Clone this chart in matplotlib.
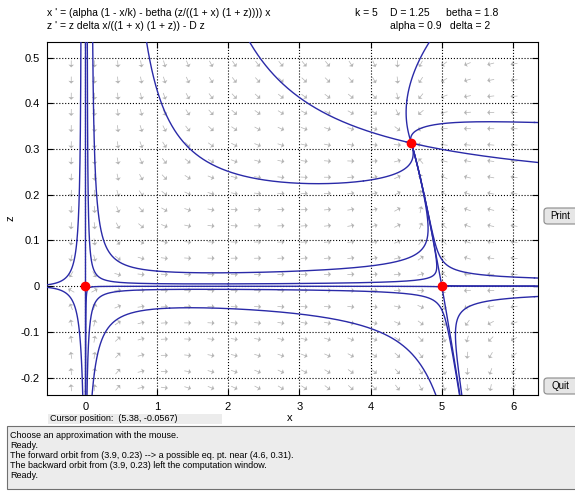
import numpy as np
import matplotlib
matplotlib.use("Agg")
import matplotlib.pyplot as plt
from matplotlib.patches import FancyBboxPatch, Rectangle

plt.rcParams['font.family'] = ['Liberation Sans', 'DejaVu Sans']

# parameters shown in the window
k = 5
D = 1.25
betha = 1.8
alpha = 0.9
delta = 2

# display window
x_lim = [-0.54, 6.35]
z_lim = [-0.238, 0.535]

# equilibrium points (red dots)
eq_x = [0.0, 5.0, 4.5723]
eq_z = [0.0, 0.0, 0.3129]

# starting points of the drawn orbits
orbit_x = [3.9, 4.50, 4.51, 6.3, 4.65, 1.0, 2.0, 2.0, 1.18, -0.12, -0.085,
           6.3, 6.3, 6.3, 5.0, 5.0, 0.0, 0.0]
orbit_z = [0.23, 0.3155, 0.406, 0.358, 0.3101, 0.033, 0.005, -0.007, -0.048, 0.1, -0.1,
           0.018, 0.0, -0.023, 0.004, -0.004, 0.5, -0.23]

# direction field grid
arrow_x = -0.2 + 0.327 * np.arange(20)
arrow_z = 0.486 - 0.0354 * np.arange(21)

xr = x_lim[1] - x_lim[0]
zr = z_lim[1] - z_lim[0]


def field(x, z):
    dx = (alpha * (1 - x / k) - betha * (z / ((1 + x) * (1 + z)))) * x
    dz = z * delta * x / ((1 + x) * (1 + z)) - D * z
    return dx, dz


def unit(x, z, sign):
    dx, dz = field(x, z)
    n = np.hypot(dx / xr, dz / zr)
    if n < 1e-9:
        return 0.0, 0.0, n
    return sign * dx / n, sign * dz / n, n


def orbit(x0, z0, sign, h=0.002, nmax=8000):
    xs, zs = [x0], [z0]
    x, z = x0, z0
    node = (eq_x[2], eq_z[2])
    for i in range(nmax):
        k1x, k1z, n = unit(x, z, sign)
        if n < 1e-6:
            break
        k2x, k2z, _ = unit(x + 0.5 * h * k1x, z + 0.5 * h * k1z, sign)
        k3x, k3z, _ = unit(x + 0.5 * h * k2x, z + 0.5 * h * k2z, sign)
        k4x, k4z, _ = unit(x + h * k3x, z + h * k3z, sign)
        x = x + h / 6 * (k1x + 2 * k2x + 2 * k3x + k4x)
        z = z + h / 6 * (k1z + 2 * k2z + 2 * k3z + k4z)
        xs.append(x)
        zs.append(z)
        if x < x_lim[0] - 0.05 or x > x_lim[1] + 0.05 or z < z_lim[0] - 0.01 or z > z_lim[1] + 0.01:
            break
        if np.hypot((x - node[0]) / xr, (z - node[1]) / zr) < 0.006:
            xs.append(node[0])
            zs.append(node[1])
            break
    return np.array(xs), np.array(zs)


fig = plt.figure(figsize=(5.75, 4.93), dpi=100)
ax = fig.add_axes([47 / 575, 1 - 395 / 493, (538 - 47) / 575, (395 - 41.5) / 493])

# direction field, arrows of equal screen length
ax_w = (538 - 47)
ax_h = (395 - 41.5)
AX, AZ = np.meshgrid(arrow_x, arrow_z)
U, V = field(AX, AZ)
su = U / xr * ax_w
sv = V / zr * ax_h
nn = np.hypot(su, sv)
ax.quiver(AX, AZ, su / nn * 7, sv / nn * 7, angles='uv', scale_units='dots', scale=1,
          pivot='middle', units='dots', width=0.7, headwidth=8, headlength=4,
          headaxislength=3.5, color='#b4b4b4', zorder=1)

# orbits
for x0, z0 in zip(orbit_x, orbit_z):
    for s in (1, -1):
        ox, oz = orbit(x0, z0, s)
        ax.plot(ox, oz, color='#2a2aa8', lw=1.0, zorder=3)

ax.plot(eq_x, eq_z, 'o', color='red', markersize=6, zorder=4)

ax.set_xlim(x_lim)
ax.set_ylim(z_lim)
ax.set_xticks(range(0, 7))
ax.set_yticks([-0.2, -0.1, 0, 0.1, 0.2, 0.3, 0.4, 0.5])
ax.set_yticklabels(['-0.2', '-0.1', '0', '0.1', '0.2', '0.3', '0.4', '0.5'])
ax.tick_params(direction='in', length=4, labelsize=8, top=True, right=True, pad=5)
ax.grid(True, linestyle=':', color='k', linewidth=0.8)
for sp in ax.spines.values():
    sp.set_linewidth(0.8)

fig.text(290 / 575, 1 - 418 / 493, 'x', fontsize=8, ha='center', va='center')
fig.text(10 / 575, 1 - 218 / 493, 'z', fontsize=8, ha='center', va='center', rotation=90)

# header
fig.text(47 / 575, 1 - 12.8 / 493, "x ' = (alpha (1 - x/k) - betha (z/((1 + x) (1 + z)))) x",
         fontsize=7.5, va='center')
fig.text(47 / 575, 1 - 26.4 / 493, "z ' = z delta x/((1 + x) (1 + z)) - D z",
         fontsize=7.5, va='center')
fig.text(355 / 575, 1 - 12.8 / 493, "k = 5", fontsize=7.5, va='center')
fig.text(390 / 575, 1 - 12.8 / 493, "D = 1.25", fontsize=7.5, va='center')
fig.text(446 / 575, 1 - 12.8 / 493, "betha = 1.8", fontsize=7.5, va='center')
fig.text(390 / 575, 1 - 26.4 / 493, "alpha = 0.9", fontsize=7.5, va='center')
fig.text(450 / 575, 1 - 26.4 / 493, "delta = 2", fontsize=7.5, va='center')

# buttons
for y0, label in [(208, 'Print'), (378, 'Quit')]:
    fig.patches.append(FancyBboxPatch((544 / 575, 1 - (y0 + 16) / 493), 40 / 575, 16 / 493,
                                      boxstyle='round,pad=0,rounding_size=0.006',
                                      transform=fig.transFigure, facecolor='#e6e6e6',
                                      edgecolor='#8a8a8a', lw=0.8))
    fig.text(560 / 575, 1 - (y0 + 8) / 493, label, fontsize=7, va='center', ha='center')

# cursor position box
fig.patches.append(Rectangle((48 / 575, 1 - 424 / 493), 174 / 575, 10.5 / 493,
                             transform=fig.transFigure, facecolor='#ececec', edgecolor='none'))
fig.text(50 / 575, 1 - 418.5 / 493, "Cursor position:  (5.38, -0.0567)", fontsize=6.5, va='center')

# message box
fig.patches.append(Rectangle((7 / 575, 1 - 489 / 493), 575 / 575, 63 / 493,
                             transform=fig.transFigure, facecolor='#ececec',
                             edgecolor='#707070', lw=0.8))
messages = ["Choose an approximation with the mouse.",
            "Ready.",
            "The forward orbit from (3.9, 0.23) --> a possible eq. pt. near (4.6, 0.31).",
            "The backward orbit from (3.9, 0.23) left the computation window.",
            "Ready."]
for i, m in enumerate(messages):
    fig.text(10 / 575, 1 - (436 + 9.8 * i) / 493, m, fontsize=6.5, va='center')

fig.savefig("out.png", dpi=100)
